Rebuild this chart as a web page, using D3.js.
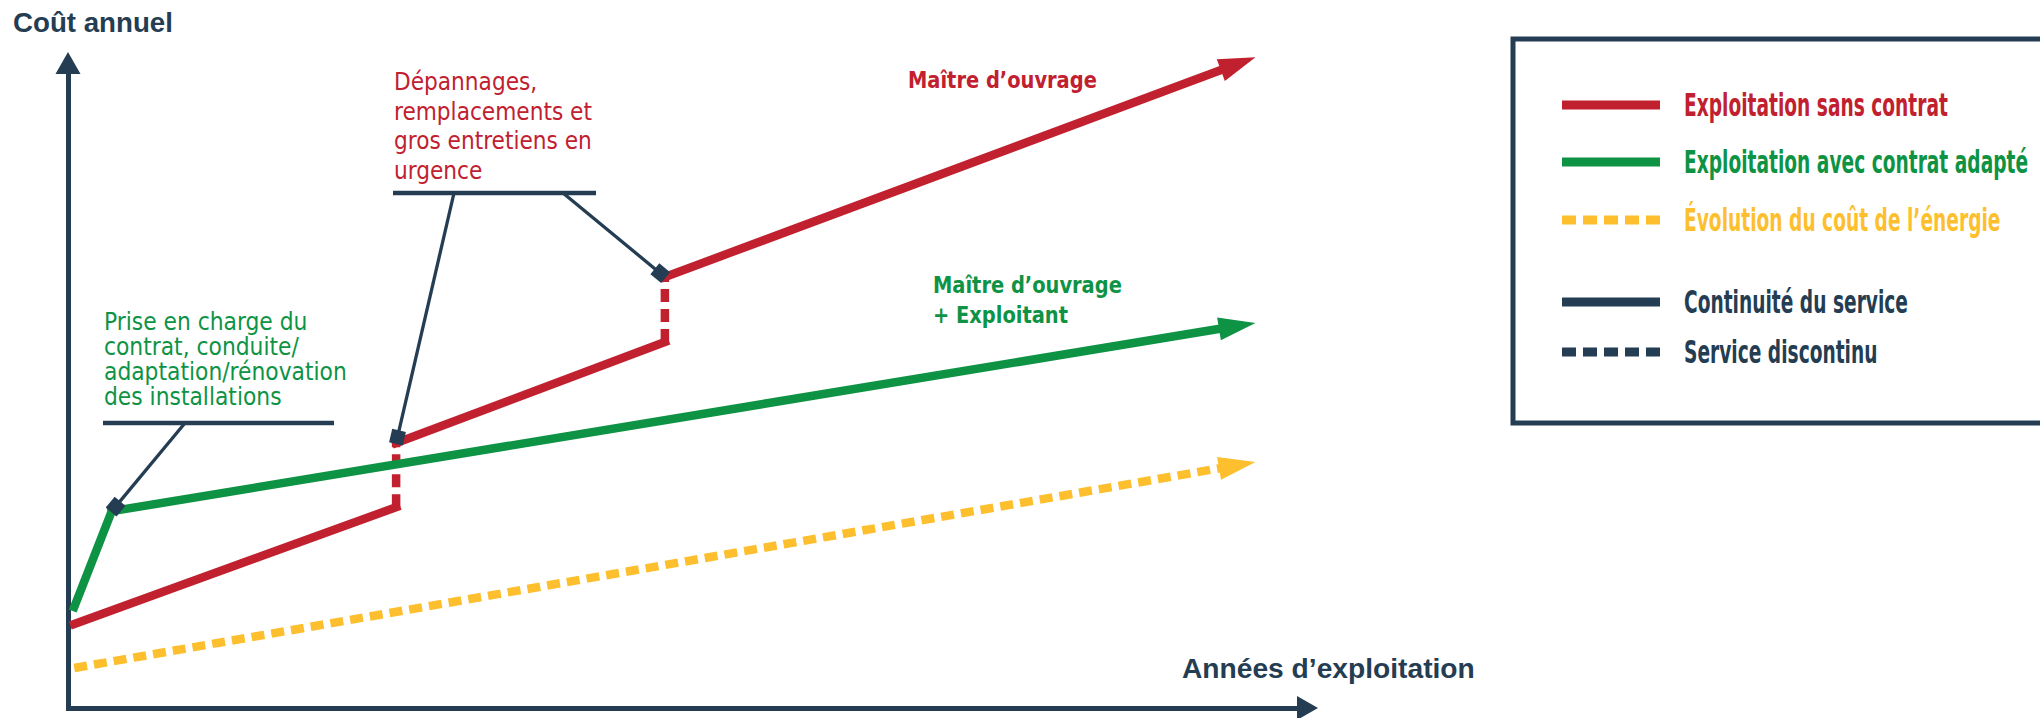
<!DOCTYPE html>
<html><head><meta charset="utf-8">
<script src="https://cdn.jsdelivr.net/npm/d3@7"></script>
<style>
html,body{margin:0;padding:0;background:#fff;}
svg{display:block}
.cond{font-family:'DejaVu Sans Condensed','DejaVu Sans',sans-serif;font-stretch:semi-condensed;}
.narrow{font-family:'Liberation Sans Narrow','Arial Narrow','DejaVu Sans Condensed',sans-serif;font-weight:bold;}
.axisTitle{font-family:'Liberation Sans',Arial,sans-serif;font-weight:bold;}
</style></head><body>
<svg id="chart" width="2040" height="718"></svg>
<script>
// ---------------- DATA ----------------
// Exploitation sans contrat (red)
const redYears  = [0.1, 5.25, 5.25, 9.55, 9.55, 19];
const redCost   = [12.8, 30.6, 40.4, 55.8, 65.7, 99.2];
const redServiceContinuous = [true, false, true, false, true]; // per segment
// Exploitation avec contrat adapté (green)
const greenYears = [0.1, 0.7, 19];
const greenCost  = [15.4, 30.0, 58.7];
// Évolution du coût de l'énergie (yellow)
const energyYears = [0.1, 19];
const energyCost  = [6.1, 37.5];

const axisTitleY = "Coût annuel";
const axisTitleX = "Années d’exploitation";
const legendLabels = ["Exploitation sans contrat", "Exploitation avec contrat adapté", "Évolution du coût de l’énergie", "Continuité du service", "Service discontinu"];
const annotationGreen = ["Prise en charge du", "contrat, conduite/", "adaptation/rénovation", "des installations"];
const annotationRed = ["Dépannages,", "remplacements et", "gros entretiens en", "urgence"];
const labelRed = ["Maître d’ouvrage"];
const labelGreen = ["Maître d’ouvrage", "+ Exploitant"];

// ---------------- STYLE ----------------
const C = {red:'#C1202F', green:'#0E9345', yellow:'#FDBF2D', navy:'#243D52'};

const svg = d3.select('#chart');
const x = d3.scaleLinear().domain([0, 20]).range([68, 1318]);
const y = d3.scaleLinear().domain([0, 100]).range([708, 52]);

// ---------------- AXES ----------------
const xAxisScale = x.copy().range([68, 1300]);
const yAxisScale = y.copy().range([708, 70]);
const gx = svg.append('g').attr('transform', 'translate(0,708)')
  .call(d3.axisBottom(xAxisScale).tickValues([]).tickSizeOuter(0));
const gy = svg.append('g').attr('transform', 'translate(68,0)')
  .call(d3.axisLeft(yAxisScale).tickValues([]).tickSizeOuter(0));
[gx, gy].forEach(g => g.select('.domain').attr('stroke', C.navy).attr('stroke-width', 5).attr('stroke-linecap', 'square'));

function arrowHead(g, p0, p1, L, Wd, color) {
  const dx = p1[0]-p0[0], dy = p1[1]-p0[1], len = Math.hypot(dx, dy);
  const ux = dx/len, uy = dy/len;
  const bx = p1[0]-ux*L, by = p1[1]-uy*L;
  const px = -uy*Wd/2, py = ux*Wd/2;
  g.append('path').attr('d', `M${p1[0]},${p1[1]}L${bx+px},${by+py}L${bx-px},${by-py}Z`).attr('fill', color);
  return [p1[0]-ux*L*0.8, p1[1]-uy*L*0.8];
}
const axes = svg.append('g');
arrowHead(axes, [x.range()[0], y(0)], [x.range()[1], y(0)], 21, 24, C.navy);
arrowHead(axes, [x.range()[0], y(0)], [x.range()[0], y.range()[1]], 22, 25, C.navy);

// ---------------- SERIES ----------------
const line = d3.line();
const marks = svg.append('g');
function drawSeries(xs, ys, cont, color, dashAll) {
  const pts = xs.map((v, i) => [x(v), y(ys[i])]);
  const n = pts.length;
  const g = marks.append('g');
  const tipEnd = arrowHead(g, pts[n-2], pts[n-1], 37, 23, color);
  for (let i = 0; i < n-1; i++) {
    const a = pts[i], b = (i === n-2) ? tipEnd : pts[i+1];
    const dashed = dashAll || (cont && !cont[i]);
    g.insert('path', ':first-child').attr('d', line([a, b]))
      .attr('fill', 'none').attr('stroke', color).attr('stroke-width', 8.5)
      .attr('stroke-linecap', dashed ? 'butt' : 'square')
      .attr('stroke-dasharray', dashed ? '13,7' : null);
  }
  return pts;
}
const yPts = drawSeries(energyYears, energyCost, null, C.yellow, true);
const rPts = drawSeries(redYears, redCost, redServiceContinuous, C.red, false);
const gPts = drawSeries(greenYears, greenCost, null, C.green, false);

// ---------------- TEXT helpers ----------------
function textBlock(lines, x0, baselines, cls, size, color, targetIdx, targetW, weight) {
  const g = svg.append('g').attr('class', cls);
  const nodes = lines.map((t, i) => g.append('text').attr('x', 0).attr('y', baselines[i])
      .attr('font-size', size).attr('fill', color).attr('font-weight', weight || null).text(t));
  const len = nodes[targetIdx].node().getComputedTextLength();
  const s = targetW / len;
  g.attr('transform', `translate(${x0},0) scale(${s},1)`);
  return g;
}

// ---------------- ANNOTATIONS ----------------
const ann = svg.append('g');
function leader(from, to) {
  const dx = to[0]-from[0], dy = to[1]-from[1], len = Math.hypot(dx, dy);
  const ux = dx/len, uy = dy/len;
  const c = [to[0]-ux*6, to[1]-uy*6];
  ann.append('line').attr('x1', from[0]).attr('y1', from[1]).attr('x2', c[0]).attr('y2', c[1])
    .attr('stroke', C.navy).attr('stroke-width', 3.3);
  const ang = Math.atan2(uy, ux) * 180 / Math.PI;
  ann.append('rect').attr('x', -7).attr('y', -7).attr('width', 14).attr('height', 14)
    .attr('fill', C.navy).attr('transform', `translate(${c[0]},${c[1]}) rotate(${ang})`);
}
// annotation 1 (green)
ann.append('line').attr('x1', 103).attr('x2', 334).attr('y1', 423).attr('y2', 423).attr('stroke', C.navy).attr('stroke-width', 4.5);
leader([185, 423], gPts[1]);
// annotation 2 (red)
ann.append('line').attr('x1', 393).attr('x2', 596).attr('y1', 193).attr('y2', 193).attr('stroke', C.navy).attr('stroke-width', 4.5);
leader([454, 193], rPts[2]);
leader([563, 193], rPts[4]);

textBlock(annotationGreen, 104, [330, 355, 380, 405], 'cond', 24, C.green, 2, 243);
textBlock(annotationRed, 394, [90, 119.7, 149.3, 179], 'cond', 24, C.red, 1, 198);
textBlock(labelRed, 908, [88], 'cond', 23, C.red, 0, 189, 'bold');
textBlock(labelGreen, 933, [293, 323], 'cond', 23, C.green, 0, 189, 'bold');

// axis titles
textBlock([axisTitleY], 13, [32], 'axisTitle', 28, C.navy, 0, 160);
textBlock([axisTitleX], 1182, [678], 'axisTitle', 28, C.navy, 0, 293);

// ---------------- LEGEND ----------------
const legendColors = [C.red, C.green, C.yellow, C.navy, C.navy];
const legendDashed = [false, false, true, false, true];
const legendRowY = [105, 162, 220, 302, 352];
const lg = svg.append('g');
lg.append('rect').attr('x', 1513).attr('y', 39).attr('width', 600).attr('height', 384)
  .attr('fill', 'none').attr('stroke', C.navy).attr('stroke-width', 5);
legendLabels.forEach((t, i) => {
  lg.append('line').attr('x1', 1562).attr('x2', 1660).attr('y1', legendRowY[i]).attr('y2', legendRowY[i])
    .attr('stroke', legendColors[i]).attr('stroke-width', 9)
    .attr('stroke-dasharray', legendDashed[i] ? '14,7' : null);
});
const lt = svg.append('g').attr('class', 'narrow');
const ltNodes = legendLabels.map((t, i) => lt.append('text').attr('x', 0).attr('y', legendRowY[i] + 11)
  .attr('font-size', 32).attr('fill', legendColors[i]).text(t));
const ls = 264 / ltNodes[0].node().getComputedTextLength();
lt.attr('transform', `translate(1684,0) scale(${ls},1)`);
</script>
</body></html>
